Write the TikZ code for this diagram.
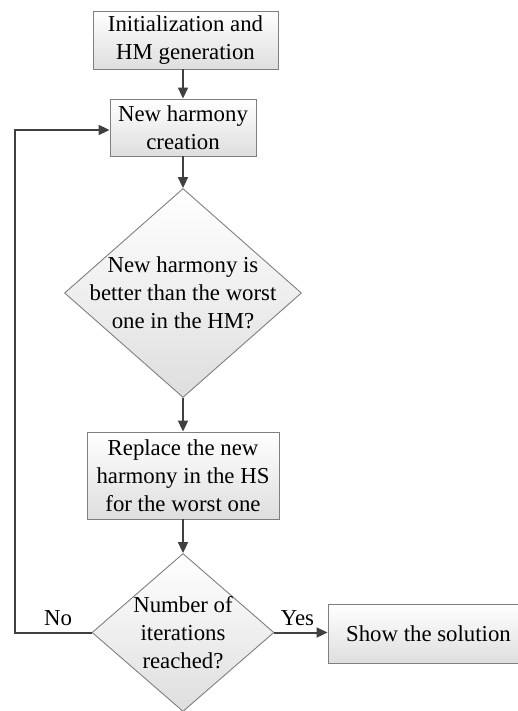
\documentclass[tikz,border=0pt]{standalone}
\usepackage{fontspec}
\setmainfont{Liberation Serif}
\usetikzlibrary{arrows.meta,shapes.geometric}
\definecolor{linegray}{HTML}{404040}
\definecolor{bordergray}{HTML}{7F7F7F}
\definecolor{shadegray}{HTML}{DEDEDE}
\begin{document}
\begin{tikzpicture}[x=1pt,y=-1pt,
  every node/.style={font=\fontsize{22.8}{28}\selectfont},
  procbox/.style={draw=bordergray, line width=0.9pt, top color=white, bottom color=shadegray, inner sep=0pt, align=center, anchor=center},
  decbox/.style={shape=diamond, draw=bordergray, line width=0.9pt, top color=white, bottom color=shadegray, inner sep=0pt},
  conn/.style={draw=linegray, line width=2pt, -{Triangle[length=11pt,width=10pt]}},
  lbl/.style={inner sep=0pt, anchor=base}
]
\useasboundingbox (0,0) rectangle (517,711);

\node[procbox, minimum width=185pt, minimum height=58pt] (init) at (185.5,40) {Initialization and\\HM generation};
\node[procbox, minimum width=146pt, minimum height=57pt] (newh) at (183,127.5) {New harmony\\creation};
\node[decbox, minimum width=237pt, minimum height=209pt] (d1) at (183,293) {};
\node[align=center] (d1t) at (183,293) {New harmony is\\better than the worst\\one in the HM?};
\node[procbox, minimum width=192pt, minimum height=87pt] (repl) at (183,475.5) {Replace the new\\harmony in the HS\\for the worst one};
\node[decbox, minimum width=182pt, minimum height=158pt] (d2) at (183,632.5) {};
\node[align=center] (d2t) at (183,632.5) {Number of\\iterations\\reached?};
\node[procbox, minimum width=201pt, minimum height=59pt] (sol) at (428.5,633.5) {Show the solution};

\coordinate (c1) at (15,632.5);
\coordinate (c2) at (15,130);

\draw[conn] (init.south -| newh.north) -- (newh.north);
\draw[conn] (newh.south) -- (d1.north);
\draw[conn] (d1.south) -- (repl.north);
\draw[conn] (repl.south) -- (d2.north);
\draw[conn] (d2.east) -- (d2.east -| sol.west);
\draw[conn] (d2.west) -- (c1) -- (c2) -- (c2 -| newh.west);

\node[lbl] (no) at (58,625) {No};
\node[lbl] (yes) at (297.5,625) {Yes};
\end{tikzpicture}
\end{document}
